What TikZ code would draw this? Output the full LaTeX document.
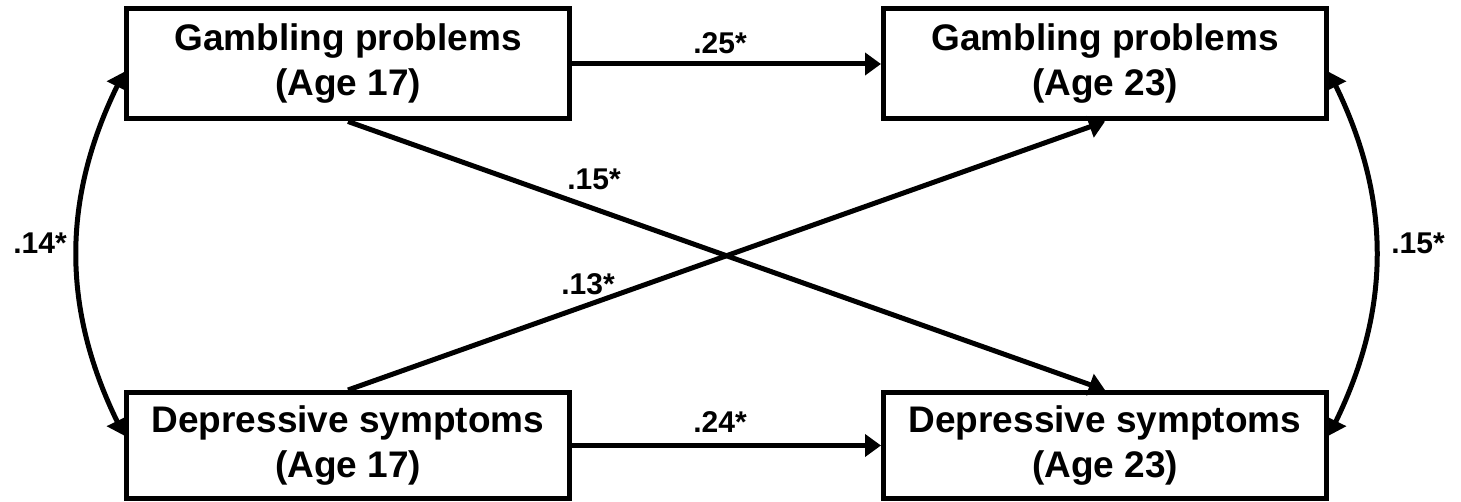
\documentclass[tikz,border=0pt]{standalone}
\usepackage{fontspec}
\setmainfont{Liberation Sans}
\usetikzlibrary{arrows.meta}

\begin{document}
\begin{tikzpicture}[x=1pt,y=1pt,node distance={757pt},main/.style = {draw, rectangle, line width=5pt, minimum width=443pt, minimum height=110pt, align=center, font=\fontsize{37}{45}\selectfont\bfseries},lab/.style = {font=\fontsize{30}{36}\selectfont\bfseries},arr/.style = {line width=5pt, -{Triangle[length=16pt,width=22pt]}},dbl/.style = {line width=5pt, {Triangle[length=16pt,width=22pt]}-{Triangle[length=16pt,width=22pt]}}] 
			\useasboundingbox (0,0) rectangle (1461,502);
			
			\node[main] (1) at (348,438) {Gambling problems\\(Age 17)}; 
			\node[main] (2) [right of=1] {Gambling problems\\(Age 23)}; 
			
			\node[main] (3) [minimum height=106pt,below of=1,node distance=381.5pt] {Depressive symptoms\\(Age 17)}; 
			\node[main] (4) [minimum height=106pt,right of=3] {Depressive symptoms\\(Age 23)}; 
			
			\node[lab] (5) at (720,459) {.25*}; 
			\node[lab] (6) at (720,80) {.24*}; 
			\node[lab] (7) at (594,323) {.15*}; 
			\node[lab] (8) at (588,218) {.13*}; 
			\node[lab] (9) at (40,259) {.14*}; 
			\node[lab] (10) at (1418,259) {.15*}; 
			
			\draw[arr] (1)--(2);
			\draw[arr] (3)--(4);
			\draw[arr] (1.south)--(4.north);
			\draw[arr] (3.north)--(2.south);
			
			\draw[dbl] ([yshift=-8pt]1.west) to[bend right=26] ([yshift=10pt]3.west);
			\draw[dbl] ([yshift=-8pt]2.east) to[bend left=26] ([yshift=10pt]4.east);
			
		\end{tikzpicture}
\end{document}
